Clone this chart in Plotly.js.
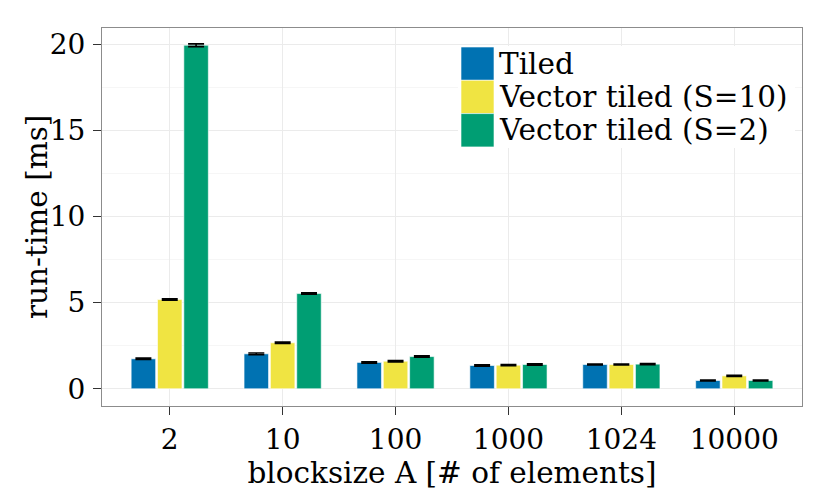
<!DOCTYPE html>
<html>
<head>
<meta charset="utf-8">
<script src="https://cdn.plot.ly/plotly-3.0.1.min.js"></script>
<style>
  html, body { margin: 0; padding: 0; background: #fff; }
  #graph { width: 830px; height: 498px; }
</style>
</head>
<body>
<div id="graph"></div>
<script>
// block sizes on the x axis
let blocksizes = ['2', '10', '100', '1000', '1024', '10000'];

// run-time in ms
let tiled = [1.74, 2.03, 1.53, 1.35, 1.41, 0.48];
let vecTiled10 = [5.18, 2.67, 1.60, 1.37, 1.41, 0.75];
let vecTiled2 = [19.95, 5.53, 1.87, 1.41, 1.43, 0.48];

// small error bars
let tiledErr = [0.04, 0.05, 0.04, 0.04, 0.03, 0.03];
let vecTiled10Err = [0.04, 0.04, 0.04, 0.03, 0.03, 0.03];
let vecTiled2Err = [0.08, 0.04, 0.04, 0.04, 0.03, 0.03];

let seriesNames = ['Tiled', 'Vector tiled (S=10)', 'Vector tiled (S=2)'];
let seriesColors = ['#0072B2', '#F0E442', '#009E73'];

let font = "DejaVu Serif";
let tickSize = 28;
let textSize = 29.5;

let values = [tiled, vecTiled10, vecTiled2];
let errors = [tiledErr, vecTiled10Err, vecTiled2Err];

let data = [];
for (let i = 0; i < values.length; i++) {
    data.push({
        type: 'bar',
        x: blocksizes,
        y: values[i],
        name: seriesNames[i],
        marker: { color: seriesColors[i], line: { color: '#ffffff', width: 0.6 } },
        error_y: { type: 'data', array: errors[i], visible: true, color: '#000000', thickness: 1.6, width: 8 },
        showlegend: false
    });
}

// legend drawn by hand so the swatches can be as big as the original
let shapes = [];
let annotations = [];
let px = function(v) { return (v - 102) / 700; };
let py = function(v) { return (406 - v) / 378; };
shapes.push({
    type: 'rect', xref: 'paper', yref: 'paper', layer: 'above',
    x0: px(458), x1: px(795), y0: py(148), y1: py(46),
    fillcolor: '#ffffff', line: { width: 0 }
});
for (let i = 0; i < seriesNames.length; i++) {
    let top = 47 + i * 33.3;
    shapes.push({
        type: 'rect', xref: 'paper', yref: 'paper', layer: 'above',
        x0: px(461), x1: px(494), y0: py(top + 33.3), y1: py(top),
        fillcolor: seriesColors[i], line: { color: '#ffffff', width: 0.6 }
    });
    annotations.push({
        xref: 'paper', yref: 'paper', x: px(497), y: py(top + 16.6),
        xanchor: 'left', yanchor: 'middle', showarrow: false,
        text: seriesNames[i], font: { family: font, size: textSize, color: '#000000' }
    });
}

// y axis title as an annotation so it can sit as close to the labels as in the original
annotations.push({
    xref: 'paper', yref: 'paper', x: px(37), y: 0.5,
    xanchor: 'center', yanchor: 'middle', showarrow: false, textangle: -90,
    text: 'run-time [ms]', font: { family: font, size: textSize, color: '#000000' }
});

let layout = {
    width: 830,
    height: 498,
    margin: { l: 102, r: 28, t: 28, b: 92 },
    paper_bgcolor: '#ffffff',
    plot_bgcolor: '#ffffff',
    barmode: 'group',
    bargap: 0.3,
    bargroupgap: 0.07,
    font: { family: font, size: tickSize, color: '#000000' },
    xaxis: {
        type: 'category',
        range: [-0.6, 5.6],
        showgrid: true,
        gridcolor: '#ebebeb',
        gridwidth: 1,
        ticks: 'outside',
        ticklen: 8,
        tickcolor: '#333333',
        tickwidth: 1,
        showline: true,
        mirror: true,
        linecolor: '#8c8c8c',
        linewidth: 1,
        zeroline: false,
        tickfont: { family: font, size: tickSize, color: '#000000' },
        title: { text: 'blocksize A [# of elements]', font: { family: font, size: textSize, color: '#000000' }, standoff: 0 }
    },
    yaxis: {
        range: [-1, 20.95],
        tickvals: [0, 5, 10, 15, 20],
        showgrid: true,
        gridcolor: '#ebebeb',
        gridwidth: 1,
        minor: { dtick: 2.5, tick0: 0, showgrid: true, gridcolor: '#f6f6f6', gridwidth: 1 },
        ticks: 'outside',
        ticklen: 8,
        tickcolor: '#333333',
        tickwidth: 1,
        ticklabelstandoff: 2,
        showline: true,
        mirror: true,
        linecolor: '#8c8c8c',
        linewidth: 1,
        zeroline: false,
        tickfont: { family: font, size: tickSize, color: '#000000' }
    },
    shapes: shapes,
    annotations: annotations
};

Plotly.newPlot('graph', data, layout, { displayModeBar: false, staticPlot: true });
</script>
</body>
</html>
